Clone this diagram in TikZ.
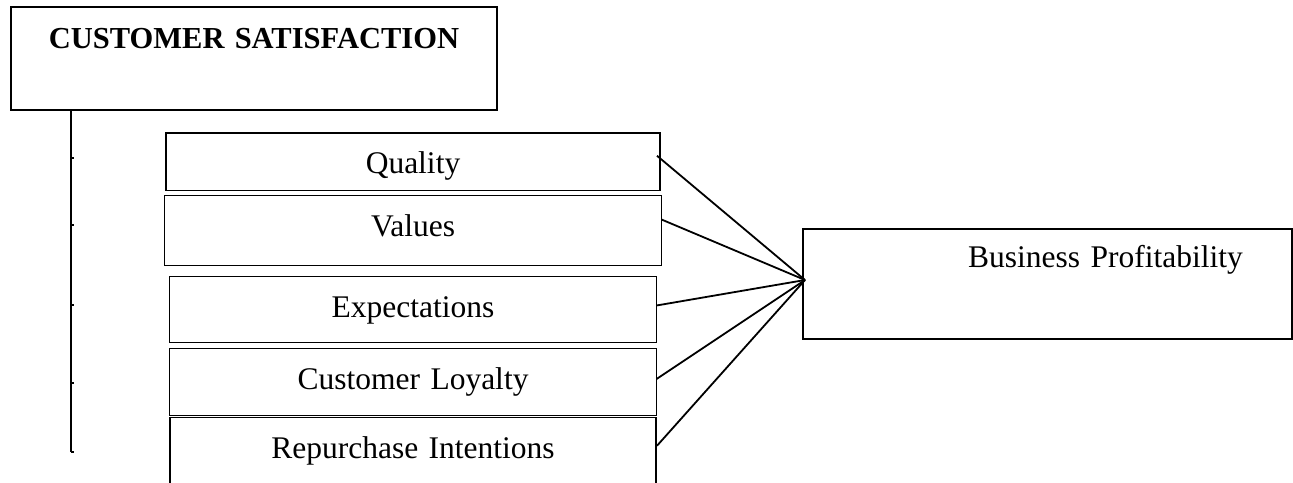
\documentclass[tikz,border=0pt]{standalone}
\usepackage{fontspec}
\setmainfont{Liberation Serif}
\usetikzlibrary{positioning}
\tikzstyle{headbox} = [rectangle, draw=black, line width=1.8pt, inner sep=0pt, outer sep=0pt, align=center,
                       font=\fontsize{30.5}{36}\bfseries, text height=41pt, text depth=62pt, anchor=north west]
\tikzstyle{factor}  = [rectangle, draw=black, line width=1.8pt, inner sep=0pt, outer sep=0pt, align=center,
                       font=\fontsize{31.5}{36}\selectfont, text height=40.5pt]
\tikzstyle{result}  = [rectangle, draw=black, line width=1.6pt, inner sep=0pt, outer sep=0pt, align=left,
                       font=\fontsize{31.5}{36}\selectfont, text height=38pt, text depth=72pt, anchor=north west]
\tikzstyle{link}    = [line width=1.8pt]

\begin{document}
\begin{tikzpicture}[x=1pt, y=-1pt]
    \useasboundingbox (0,0) rectangle (1293,482);
    \clip (0,0) rectangle (1293,482);

    % Top box
    \node (sat) [headbox, text width=486pt] at (11,7) {CUSTOMER SATISFACTION};

    % Factors (middle column)
    \node (quality) [factor, text width=494pt, text depth=17pt, anchor=north west] at (166,133) {Quality};
    \node (values) [factor, below=5pt of quality, text width=497pt, text depth=29.5pt] {Values};
    \node (expect) [factor, below=11pt of values, text width=487pt, text depth=25.5pt] {Expectations};
    \node (loyal) [factor, below=6pt of expect, text width=487pt, text depth=26.5pt] {Customer Loyalty};
    \node (repurch) [factor, below=2pt of loyal, text width=486pt, text depth=40pt] {Repurchase Intentions};

    % Outcome (right)
    \node (profit) [result, text width=489pt] at (803,229) {\hspace*{165pt}Business Profitability};
    \coordinate (hub) at ([xshift=2pt, yshift=4pt]profit.west);

    % Stem with ticks
    \coordinate (stem) at (71,452);
    \draw[link] (stem |- sat.south) -- (stem);
    \foreach \y in {158,225,305,383,452}
        \draw[link] (71,\y) -- ++(2.5,0);

    % Factors to outcome
    \draw[link] ([xshift=-3pt, yshift=6pt]quality.east) -- (hub);
    \draw[link] ([yshift=11pt]values.east) -- (hub);
    \draw[link] ([yshift=4pt]expect.east) -- (hub);
    \draw[link] ([yshift=3pt]loyal.east) -- (hub);
    \draw[link] ([xshift=1pt, yshift=12pt]repurch.east) -- (hub);
\end{tikzpicture}
\end{document}
